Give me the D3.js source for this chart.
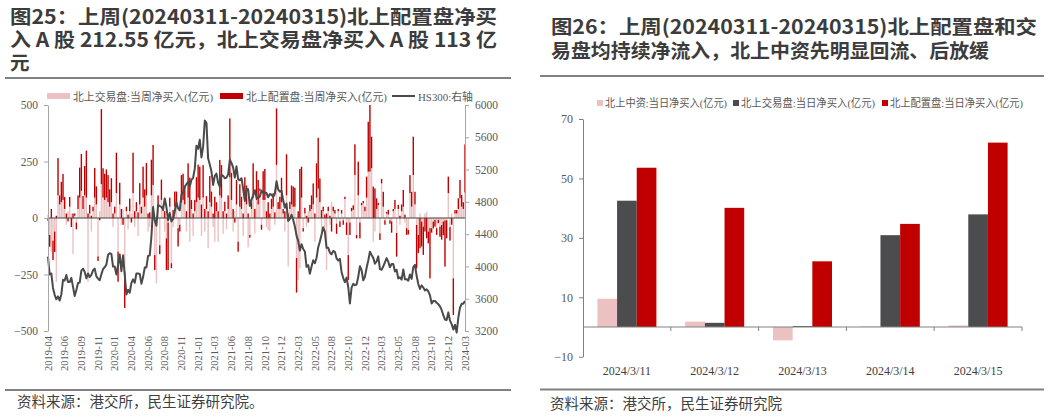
<!DOCTYPE html>
<html><head><meta charset="utf-8">
<script src="https://cdn.jsdelivr.net/npm/d3@7"></script>
<style>body{margin:0;background:#fff}svg{display:block}</style>
</head><body><svg id="c" width="1049" height="417"></svg>
<script>
// ---------------- DATA ----------------
const weeks = [
"2019-04-19","2019-04-26","2019-05-03","2019-05-10","2019-05-17","2019-05-24","2019-05-31","2019-06-06","2019-06-14","2019-06-21","2019-06-28","2019-07-05","2019-07-12","2019-07-19","2019-07-26","2019-08-02","2019-08-09","2019-08-16","2019-08-23","2019-08-30","2019-09-06","2019-09-13","2019-09-20","2019-09-27","2019-10-11","2019-10-18","2019-10-25","2019-11-01","2019-11-08","2019-11-15","2019-11-22","2019-11-29","2019-12-06","2019-12-13","2019-12-20","2019-12-27",
"2020-01-03","2020-01-10","2020-01-17","2020-01-23","2020-01-31","2020-02-07","2020-02-14","2020-02-21","2020-02-28","2020-03-06","2020-03-13","2020-03-20","2020-03-27","2020-04-03","2020-04-10","2020-04-17","2020-04-24","2020-04-30","2020-05-08","2020-05-15","2020-05-22","2020-05-29","2020-06-05","2020-06-12","2020-06-19","2020-06-24","2020-07-03","2020-07-10","2020-07-17","2020-07-24","2020-07-31","2020-08-07","2020-08-14","2020-08-21","2020-08-28","2020-09-04","2020-09-11","2020-09-18","2020-09-25","2020-09-30","2020-10-09","2020-10-16","2020-10-23","2020-10-30","2020-11-06","2020-11-13","2020-11-20","2020-11-27","2020-12-04","2020-12-11","2020-12-18","2020-12-25","2020-12-31",
"2021-01-08","2021-01-15","2021-01-22","2021-01-29","2021-02-05","2021-02-10","2021-02-19","2021-02-26","2021-03-05","2021-03-12","2021-03-19","2021-03-26","2021-04-02","2021-04-09","2021-04-16","2021-04-23","2021-04-30","2021-05-07","2021-05-14","2021-05-21","2021-05-28","2021-06-04","2021-06-11","2021-06-18","2021-06-25","2021-07-02","2021-07-09","2021-07-16","2021-07-23","2021-07-30","2021-08-06","2021-08-13","2021-08-20","2021-08-27","2021-09-03","2021-09-10","2021-09-17","2021-09-24","2021-09-30","2021-10-08","2021-10-15","2021-10-22","2021-10-29","2021-11-05","2021-11-12","2021-11-19","2021-11-26","2021-12-03","2021-12-10","2021-12-17","2021-12-24","2021-12-31",
"2022-01-07","2022-01-14","2022-01-21","2022-01-28","2022-02-11","2022-02-18","2022-02-25","2022-03-04","2022-03-11","2022-03-18","2022-03-25","2022-04-01","2022-04-08","2022-04-15","2022-04-22","2022-04-29","2022-05-06","2022-05-13","2022-05-20","2022-05-27","2022-06-02","2022-06-10","2022-06-17","2022-06-24","2022-07-01","2022-07-08","2022-07-15","2022-07-22","2022-07-29","2022-08-05","2022-08-12","2022-08-19","2022-08-26","2022-09-02","2022-09-09","2022-09-16","2022-09-23","2022-09-30","2022-10-14","2022-10-21","2022-10-28","2022-11-04","2022-11-11","2022-11-18","2022-11-25","2022-12-02","2022-12-09","2022-12-16","2022-12-23","2022-12-30",
"2023-01-06","2023-01-13","2023-01-20","2023-02-03","2023-02-10","2023-02-17","2023-02-24","2023-03-03","2023-03-10","2023-03-17","2023-03-24","2023-03-31","2023-04-07","2023-04-14","2023-04-21","2023-04-28","2023-05-05","2023-05-12","2023-05-19","2023-05-26","2023-06-02","2023-06-09","2023-06-16","2023-06-21","2023-06-30","2023-07-07","2023-07-14","2023-07-21","2023-07-28","2023-08-04","2023-08-11","2023-08-18","2023-08-25","2023-09-01","2023-09-08","2023-09-15","2023-09-22","2023-09-28","2023-10-13","2023-10-20","2023-10-27","2023-11-03","2023-11-10","2023-11-17","2023-11-24","2023-12-01","2023-12-08","2023-12-15","2023-12-22","2023-12-29",
"2024-01-05","2024-01-12","2024-01-19","2024-01-26","2024-02-02","2024-02-08","2024-02-23","2024-03-01","2024-03-08","2024-03-15"];

// 北上交易盘:当周净买入(亿元)
const tradingNet = [
15,-75,-150,-100,-60,-282,100,60,70,80,
40,-30,30,50,20,-160,10,-20,40,90,
120,40,100,90,-282,20,-60,30,90,60,
-170,30,150,90,80,90,70,50,70,-40,
20,110,-149,60,-30,40,-237,30,-50,30,
20,110,-40,30,-80,60,20,90,50,100,
-60,-40,100,146,-164,-289,60,-120,80,30,
-60,-90,-20,50,-200,-40,50,60,-45,-30,
70,80,60,-60,90,-105,40,-80,30,70,
90,80,-80,90,-60,40,-134,70,50,-40,
-105,30,-105,100,90,-70,30,-50,40,180,
80,-60,30,60,-105,50,40,-80,80,60,
-130,-75,40,90,-70,80,60,120,-30,80,
80,-40,-53,-58,40,50,-30,235,40,40,
70,20,-60,100,-215,40,60,50,50,-177,
-275,-222,90,-45,20,-40,30,30,40,60,
-105,90,130,70,-60,30,-40,-230,30,-30,
72,30,20,-25,30,-15,20,-10,84,-20,
-164,-20,30,36,190,-75,100,-20,57,65,
30,90,205,205,220,-105,-60,40,57,-68,
153,50,-10,20,15,-10,-15,30,40,-66,
40,-30,30,50,-20,-45,-53,110,50,190,
60,-31,-75,20,-16,-38,20,28,-60,-45,
-45,-16,-8,-45,-8,-38,-31,-16,-10,-10,
110,-40,20,-267,20,20,40,87,50,40,113];

// 北上配置盘:当周净买入(亿元)
const allocNet = [
-12,-52,40,-86,-90,10,165,40,90,115,
53,20,-15,43,-40,20,10,-30,60,133,
163,57,130,208,20,38,10,20,131,80,
-20,-10,332,130,116,125,120,77,106,20,
30,179,-133,96,40,-30,-161,20,15,56,
-20,179,30,40,25,94,30,137,77,143,
20,25,158,177,-66,0,40,-40,90,25,
30,-140,-210,40,-22,35,67,57,-81,-30,
120,116,82,30,152,179,40,20,50,110,
146,147,60,144,40,57,30,116,67,20,
94,40,30,157,144,30,42,20,60,261,
120,40,-20,108,-44,99,54,20,100,84,
20,-12,30,152,40,127,108,10,-22,127,
137,30,70,20,45,60,25,250,30,54,
108,20,30,182,20,32,84,89,84,-153,
30,217,137,-15,25,10,-20,28,60,93,
20,152,225,105,35,20,15,20,20,10,
-60,20,15,-45,10,-25,15,-20,10,-55,
-110,-55,15,20,136,-15,149,-70,10,10,
20,93,221,295,140,139,131,47,10,-29,
20,66,-20,7,21,-15,-50,10,40,-105,
18,10,30,74,15,-30,-20,80,66,170,
56,-192,-80,-134,-110,-125,-60,-90,-52,-222,
-20,-30,-30,-30,-15,-45,-65,-60,-205,-80,
73,-60,-30,-162,15,15,47,81,52,30,212.55];

// HS300 weekly close (right axis)
const hs300 = [
4120,3900,3913,3734,3648,3593,3629,3577,3653,3834,3825,3893,3808,3807,3858,3747,3633,3708,3794,3799,3949,3972,3935,3852,3913,3869,3896,3952,3973,3877,3849,3828,3902,3968,3990,4022,
4144,4163,4155,3999,3999,3899,4015,4149,3940,4138,3896,3653,3710,3675,3796,3840,3797,3912,3912,3907,3786,3868,3986,3988,4130,4138,4371,4737,4569,4505,4763,4749,4736,4707,4843,4736,4572,4662,4556,4587,4681,4794,4720,4695,4889,4917,4990,5020,5047,4990,5073,5098,5211,
5496,5458,5569,5351,5484,5807,5778,5336,5262,5176,5009,5122,5150,5035,4990,5135,5123,5092,5100,5140,5321,5282,5224,5102,5240,5081,5067,5093,4962,4811,4958,4955,4749,4827,4880,4943,4853,4848,4867,4940,4909,4916,4909,4856,4897,4889,4860,4901,5055,4954,4925,4940,
4819,4726,4779,4563,4589,4640,4578,4495,4381,4317,4197,4276,4216,4185,3995,4016,3908,3999,4077,4040,4105,4238,4309,4394,4486,4428,4231,4230,4171,4150,4191,4181,4100,4073,4094,3932,3856,3804,3861,3745,3541,3738,3785,3768,3776,3871,4002,3954,3828,3872,
3980,4074,4182,4141,4106,4034,4061,4125,3967,3958,4002,4051,4103,4058,3990,4029,4029,3937,3958,3851,3864,3837,3963,3840,3842,3824,3900,3846,3992,4019,3884,3783,3721,3766,3739,3703,3717,3690,3642,3540,3573,3571,3550,3532,3505,3461,3396,3342,3337,3431,
3329,3285,3218,3277,3180,3364,3489,3537,3539,3572];

const leftYTicks = [-500, -250, 0, 250, 500];
const rightYTicks = [3200, 3600, 4000, 4400, 4800, 5200, 5600, 6000];
const leftLegend = ["北上交易盘:当周净买入(亿元)", "北上配置盘:当周净买入(亿元)", "HS300:右轴"];

// Figure 26 (daily)
const days = ["2024/3/11", "2024/3/12", "2024/3/13", "2024/3/14", "2024/3/15"];
const dailySeries = ["北上中资:当日净买入(亿元)", "北上交易盘:当日净买入(亿元)", "北上配置盘:当日净买入(亿元)"];
const chinaCapital = [9.5, 1.8, -4.5, 0.2, 0.5];
const dailyTrading = [42.5, 1.4, 0.3, 30.9, 37.9];
const dailyAlloc = [53.6, 40.1, 22.1, 34.7, 62.05];
const dailyYTicks = [-10, 10, 30, 50, 70];

const title25 = ["图25：上周(20240311-20240315)北上配置盘净买", "入 A 股 212.55 亿元，北上交易盘净买入 A 股 113 亿", "元"];
const title26 = ["图26：上周(20240311-20240315)北上配置盘和交", "易盘均持续净流入，北上中资先明显回流、后放缓"];
const sourceLeft = "资料来源：港交所，民生证券研究院。";
const sourceRight = "资料来源：港交所，民生证券研究院";

// ---------------- STYLE ----------------
const CJK = '"Noto Sans CJK SC","Noto Sans",sans-serif';
const MIX = '"Liberation Serif","Noto Sans CJK SC",serif';
const SERIF = '"Liberation Serif","DejaVu Serif",serif';
const PINK = "#ebc1c1", RED = "#c00000", DARK = "#4c4c4e", AXIS = "#a6a6a6", LBL = "#595959";

const svg = d3.select("#c");
svg.append("rect").attr("width", 1049).attr("height", 417).attr("fill", "#fff");

// ---------------- TITLES / FRAMES ----------------
function titleBlock(x, ys, lines, lens) {
  lines.forEach((t, k) => {
    const el = svg.append("text").attr("x", x).attr("y", ys[k]).text(t)
      .attr("font-family", CJK).attr("font-weight", 700).attr("font-size", 19.5).attr("fill", "#3c3c3c");
    if (lens[k]) el.attr("textLength", lens[k]).attr("lengthAdjust", "spacingAndGlyphs");
  });
}
titleBlock(10, [24, 47, 69.5], title25, [487, 487, null]);
titleBlock(551, [34, 58], title26, [486, 438]);

function rule(x1, x2, y) {
  svg.append("line").attr("x1", x1).attr("x2", x2).attr("y1", y).attr("y2", y)
    .attr("stroke", "#808080").attr("stroke-width", 2);
}
rule(5, 511, 78); rule(540, 1044, 76);
rule(5, 511, 390); rule(540, 1044, 389.5);
svg.append("text").attr("x", 17).attr("y", 407).text(sourceLeft)
  .attr("font-family", CJK).attr("font-size", 14.5).attr("fill", "#404040");
svg.append("text").attr("x", 550).attr("y", 409).text(sourceRight)
  .attr("font-family", CJK).attr("font-size", 14.5).attr("fill", "#404040");

// ---------------- LEFT CHART ----------------
const xL = d3.scaleLinear().domain([0, weeks.length - 1]).range([48, 465]);
const yL = d3.scaleLinear().domain([-500, 500]).range([331, 105]);
const yR = d3.scaleLinear().domain([3200, 6000]).range([331, 105]);

const rows = weeks.map((w, i) => ({ i, trade: tradingNet[i], alloc: allocNet[i] }));
const stacked = d3.stack().keys(["trade", "alloc"]).offset(d3.stackOffsetDiverging)(rows);
const colorsL = { trade: PINK, alloc: RED };
const bw = 1.4;
const gL = svg.append("g");
stacked.forEach(layer => {
  gL.append("g").attr("fill", colorsL[layer.key]).selectAll("rect").data(layer).join("rect")
    .attr("x", d => xL(d.data.i) - bw / 2)
    .attr("width", bw)
    .attr("y", d => yL(Math.max(d[0], d[1])))
    .attr("height", d => Math.abs(yL(d[0]) - yL(d[1])));
});

// zero line
gL.append("line").attr("x1", 48).attr("x2", 465).attr("y1", yL(0)).attr("y2", yL(0))
  .attr("stroke", "#404040").attr("stroke-width", 1);

// HS300 line
gL.append("path").datum(hs300)
  .attr("d", d3.line().x((d, i) => xL(i)).y(d => yR(d)))
  .attr("fill", "none").attr("stroke", "#4a4a4a").attr("stroke-width", 2).attr("stroke-linejoin", "round");

function styleAxis(g) {
  g.select(".domain").attr("stroke", AXIS);
  g.selectAll(".tick line").attr("stroke", AXIS);
  g.selectAll(".tick text").attr("font-family", SERIF).attr("font-size", 11.5).attr("fill", LBL);
}
svg.append("g").attr("transform", "translate(48,0)")
  .call(d3.axisLeft(yL).tickValues(leftYTicks).tickFormat(d3.format("d")).tickSize(4).tickSizeOuter(0).tickPadding(6))
  .call(styleAxis);
svg.append("g").attr("transform", "translate(465,0)")
  .call(d3.axisRight(yR).tickValues(rightYTicks).tickFormat(d3.format("d")).tickSize(4).tickSizeOuter(0).tickPadding(6))
  .call(styleAxis);

// x tick labels (every 10th week)
const tickIdx = weeks.map((w, i) => i).filter(i => i % 10 === 0);
svg.append("g").selectAll("text").data(tickIdx).join("text")
  .attr("transform", i => `translate(${xL(i)},336) rotate(-90)`)
  .attr("text-anchor", "end").attr("dy", "0.35em")
  .attr("font-family", SERIF).attr("font-size", 10.5).attr("fill", LBL)
  .text(i => weeks[i].slice(0, 7));

// left legend
const lg = svg.append("g").attr("font-family", MIX).attr("font-size", 11).attr("fill", LBL);
lg.append("rect").attr("x", 47).attr("y", 93).attr("width", 23).attr("height", 6).attr("fill", PINK);
lg.append("text").attr("x", 73).attr("y", 100.5).attr("textLength", 140).attr("lengthAdjust", "spacingAndGlyphs").text(leftLegend[0]);
lg.append("rect").attr("x", 220).attr("y", 93).attr("width", 23).attr("height", 6).attr("fill", RED);
lg.append("text").attr("x", 246).attr("y", 100.5).attr("textLength", 141).attr("lengthAdjust", "spacingAndGlyphs").text(leftLegend[1]);
lg.append("line").attr("x1", 392).attr("x2", 415).attr("y1", 96).attr("y2", 96).attr("stroke", "#4a4a4a").attr("stroke-width", 2);
lg.append("text").attr("x", 418).attr("y", 100.5).attr("textLength", 55).attr("lengthAdjust", "spacingAndGlyphs").text(leftLegend[2]);

// ---------------- RIGHT CHART ----------------
const x0 = d3.scaleBand().domain(days).range([583, 1022]).padding(0);
const inner = d3.scaleBand().domain([0, 1, 2]).range([0, 59]).padding(0);
const off = (x0.bandwidth() - 59) / 2;
const yD = d3.scaleLinear().domain([-10, 70]).range([356.7, 119]);
const dailyVals = [chinaCapital, dailyTrading, dailyAlloc];
const dColors = [PINK, DARK, RED];

const gR = svg.append("g");
dailyVals.forEach((vals, s) => {
  gR.append("g").attr("fill", dColors[s]).selectAll("rect").data(vals).join("rect")
    .attr("x", (v, k) => x0(days[k]) + off + inner(s))
    .attr("width", inner.bandwidth())
    .attr("y", v => yD(Math.max(0, v)))
    .attr("height", v => Math.abs(yD(v) - yD(0)));
});

svg.append("g").attr("transform", "translate(583,0)")
  .call(d3.axisLeft(yD).tickValues(dailyYTicks).tickSize(4).tickSizeOuter(0).tickPadding(6))
  .call(g => {
    g.select(".domain").attr("stroke", "#808080");
    g.selectAll(".tick line").attr("stroke", "#808080");
    g.selectAll(".tick text").attr("font-family", SERIF).attr("font-size", 12).attr("fill", LBL);
  });

// category axis at zero
const xa = svg.append("g");
xa.append("line").attr("x1", 583).attr("x2", 1022).attr("y1", yD(0)).attr("y2", yD(0)).attr("stroke", "#808080");
xa.selectAll("line.tk").data(days).join("line").attr("class", "tk")
  .attr("x1", d => x0(d) + x0.bandwidth()).attr("x2", d => x0(d) + x0.bandwidth())
  .attr("y1", yD(0)).attr("y2", yD(0) + 4).attr("stroke", "#808080");
xa.selectAll("text").data(days).join("text")
  .attr("x", d => x0(d) + x0.bandwidth() / 2).attr("y", 375)
  .attr("text-anchor", "middle").attr("font-family", SERIF).attr("font-size", 12).attr("fill", "#404040")
  .text(d => d);

// right legend
const rl = svg.append("g").attr("font-family", MIX).attr("font-size", 11).attr("fill", LBL);
const legX = [597, 733, 882];
const legW = [122, 134, 133];
dailySeries.forEach((name, s) => {
  rl.append("rect").attr("x", legX[s]).attr("y", 100).attr("width", 6).attr("height", 6).attr("fill", dColors[s]);
  rl.append("text").attr("x", legX[s] + 8).attr("y", 107).attr("textLength", legW[s]).attr("lengthAdjust", "spacingAndGlyphs").text(name);
});
</script></body></html>
